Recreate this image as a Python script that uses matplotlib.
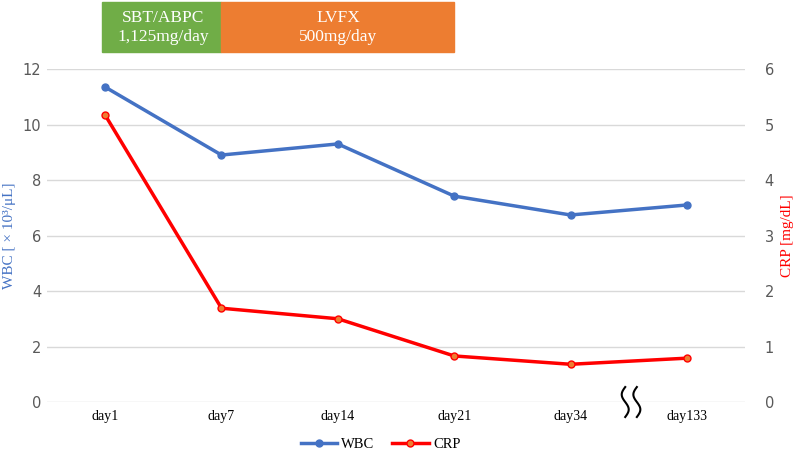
import numpy as np
import matplotlib
matplotlib.use("Agg")
import matplotlib.pyplot as plt
from matplotlib.patches import Rectangle
from matplotlib.lines import Line2D
import matplotlib.transforms as mtransforms

# Données
jours = ["day1", "day7", "day14", "day21", "day34", "day133"]
wbc = [11.35, 8.9, 9.3, 7.42, 6.74, 7.1]
crp = [5.17, 1.69, 1.5, 0.83, 0.68, 0.79]
traitements = ["SBT/ABPC\n1,125mg/day", "LVFX\n500mg/day"]
debut_traitement = [0, 1]
fin_traitement = [1, 3]
couleurs_traitement = ["#70AD47", "#ED7D31"]

serif = ["Liberation Serif", "DejaVu Serif"]

fig = plt.figure(figsize=(7.96, 4.54), dpi=100)
ax = fig.add_axes([0.059, 0.1145, 0.877, 0.7335])
ax2 = ax.twinx()

x = np.arange(len(jours))
ax.plot(x, wbc, color="#4472C4", lw=2.5, marker="o", ms=5, label="WBC", zorder=3)
ax2.plot(x, crp, color="#FF0000", lw=2.5, marker="o", ms=5, mfc="#ED7D31",
         mec="#FF0000", mew=1, label="CRP", zorder=3)

ax.set_xlim(-0.5, len(jours) - 0.5)
ax.set_ylim(0, 12)
ax2.set_ylim(0, 6)
ax.set_yticks(range(0, 13, 2))
ax2.set_yticks(range(0, 7))
ax.grid(axis="y", color="#D9D9D9", lw=1)
ax.set_axisbelow(True)
for a in (ax, ax2):
    for s in a.spines.values():
        s.set_visible(False)
    a.tick_params(length=0, colors="#595959", labelsize=10.5)
ax.tick_params(axis="y", pad=4)
ax2.tick_params(axis="y", pad=14)
ax.set_xticks(x)
ax.set_xticklabels(jours, fontfamily=serif, fontsize=10, color="black")
ax.tick_params(axis="x", pad=6)

ax.set_ylabel("WBC [ × 10³/μL]", color="#4472C4", fontfamily=serif, fontsize=11)
ax.yaxis.set_label_coords(-0.044, 0.5)
ax2.set_ylabel("CRP [mg/dL]", color="#FF0000", fontfamily=serif, fontsize=11,
               rotation=90, labelpad=5)

# Bandeau des traitements
trans = mtransforms.blended_transform_factory(ax.transData, ax.transAxes)
for t, d, f, c in zip(traitements, debut_traitement, fin_traitement, couleurs_traitement):
    ax.add_patch(Rectangle((d - 0.03 if d == 0 else d, 1.051), f - d + (0.03 if d == 0 else 0), 0.15,
                           transform=trans, color=c, clip_on=False, zorder=5))
    ax.text((d + f) / 2, 1.126, t, transform=trans, ha="center", va="center",
            color="white", fontfamily=serif, fontsize=12.5, linespacing=1.25, zorder=6)

# Symbole de coupure de l'axe
tt = np.linspace(0, 1, 50)
for dx in (-0.05, 0.05):
    xs = 4.52 + dx + 0.03 * np.sin(tt * 2 * np.pi)
    ys = -0.045 + 0.09 * tt
    ax.plot(xs, ys, color="black", lw=1.5, transform=trans, clip_on=False)

fig.legend(handles=[Line2D([], [], color="#4472C4", lw=2.5, marker="o", ms=5),
                    Line2D([], [], color="#FF0000", lw=2.5, marker="o", ms=5,
                           mfc="#ED7D31", mec="#FF0000")],
           labels=["WBC", "CRP"], loc="center", bbox_to_anchor=(0.478, 0.022),
           ncol=2, frameon=False, prop={"family": serif, "size": 10.5},
           handlelength=2.5, columnspacing=1.2, handletextpad=0.3)

fig.savefig("out.png", dpi=100)
